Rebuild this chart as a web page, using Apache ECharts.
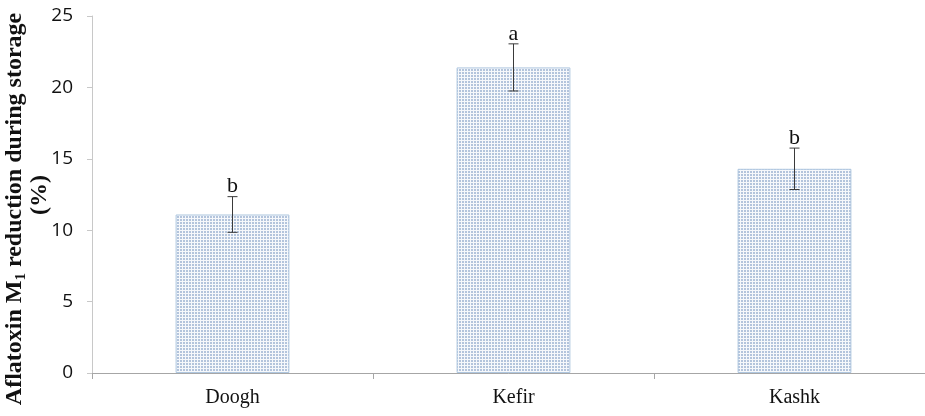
<!DOCTYPE html>
<html>
<head>
<meta charset="utf-8">
<script src="https://cdn.jsdelivr.net/npm/echarts@6/dist/echarts.min.js"></script>
<style>
html,body{margin:0;padding:0;background:#fff;}
#chart{width:925px;height:416px;}
</style>
</head>
<body>
<div id="chart"></div>
<script>
var categories = ["Doogh", "Kefir", "Kashk"];
var means = [11.1, 21.4, 14.3];
var errors = [1.25, 1.65, 1.45];
var letters = ["b", "a", "b"];

// dotted fill like the original
function makePattern(){
    var c = document.createElement("canvas");
    c.width = 3; c.height = 3;
    var ctx = c.getContext("2d");
    ctx.fillStyle = "#f6f8fb";
    ctx.fillRect(0, 0, 3, 3);
    ctx.fillStyle = "#b3c4dc";
    ctx.fillRect(0, 0, 2, 2);
    return c;
}

var errData = [];
for (var i = 0; i < categories.length; i++) {
    errData.push([i, means[i] - errors[i], means[i] + errors[i], letters[i]]);
}

var myChart = echarts.init(document.getElementById("chart"));
var option = {
    animation: false,
    grid: {left: 92, right: -10, top: 16, bottom: 43, containLabel: false, outerBoundsMode: "none"},
    graphic: [
        {
            type: "text",
            x: 15, y: 209,
            rotation: Math.PI / 2,
            style: {
                text: "{t|Aflatoxin M}{s|1}{t| reduction during storage}",
                align: "center",
                verticalAlign: "middle",
                rich: {
                    t: {fontFamily: "Liberation Serif", fontWeight: "bold", fontSize: 24, fill: "#111"},
                    s: {fontFamily: "Liberation Serif", fontWeight: "bold", fontSize: 15, fill: "#111", padding: [12, 0, 0, 0]}
                }
            }
        },
        {
            type: "text",
            x: 40, y: 195,
            rotation: Math.PI / 2,
            style: {
                text: "(%)",
                align: "center",
                verticalAlign: "middle",
                font: "bold 24px 'Liberation Serif'",
                fill: "#111"
            }
        }
    ],
    xAxis: {
        type: "category",
        data: categories,
        axisLine: {lineStyle: {color: "#a6a6a6"}},
        axisTick: {show: true, length: 6, lineStyle: {color: "#a6a6a6"}},
        axisLabel: {
            margin: 15,
            fontFamily: "Liberation Serif",
            fontSize: 20,
            color: "#111"
        }
    },
    yAxis: {
        type: "value",
        min: 0,
        max: 25,
        interval: 5,
        splitLine: {show: false},
        axisLine: {show: true, lineStyle: {color: "#c8c8c8"}},
        axisTick: {show: true, length: 5, lineStyle: {color: "#c8c8c8"}},
        axisLabel: {
            margin: 19,
            fontFamily: "Open Sans",
            fontSize: 19,
            color: "#111"
        }
    },
    series: [
        {
            type: "bar",
            data: means,
            barWidth: "40.5%",
            itemStyle: {
                color: {image: makePattern(), repeat: "repeat"},
                borderColor: "#aec6df",
                borderWidth: 1
            }
        },
        {
            type: "custom",
            data: errData,
            z: 5,
            renderItem: function(params, api){
                var x = api.value(0);
                var lo = api.coord([x, api.value(1)]);
                var hi = api.coord([x, api.value(2)]);
                var hw = 5;
                var st = {stroke: "#3a3a3a", lineWidth: 1};
                return {
                    type: "group",
                    children: [
                        {type: "line", shape: {x1: lo[0], y1: lo[1], x2: hi[0], y2: hi[1]}, style: st},
                        {type: "line", shape: {x1: lo[0] - hw, y1: lo[1], x2: lo[0] + hw, y2: lo[1]}, style: st},
                        {type: "line", shape: {x1: hi[0] - hw, y1: hi[1], x2: hi[0] + hw, y2: hi[1]}, style: st},
                        {type: "text", style: {
                            x: hi[0], y: hi[1] + 1,
                            text: api.value(3),
                            fill: "#111",
                            font: "22px 'Liberation Serif'",
                            align: "center",
                            verticalAlign: "bottom"
                        }}
                    ]
                };
            }
        }
    ]
};
myChart.setOption(option);
</script>
</body>
</html>
